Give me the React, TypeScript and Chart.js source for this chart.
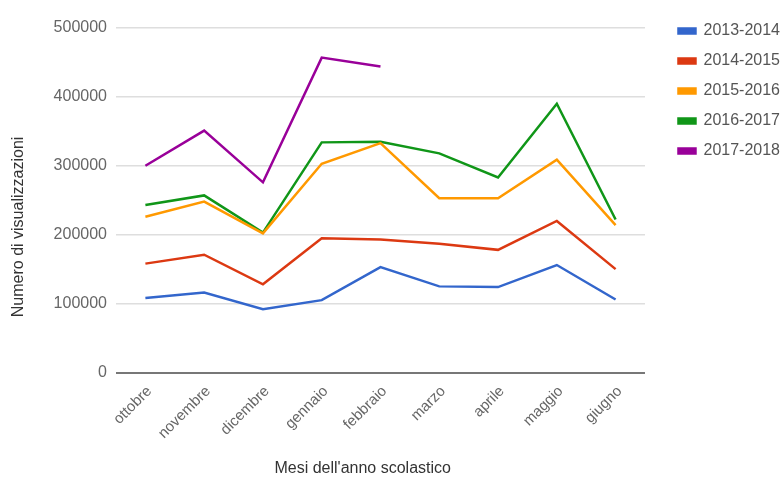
import React, { useEffect, useRef } from 'react';
import { Chart, registerables } from 'chart.js';

Chart.register(...registerables);

const months = ['ottobre', 'novembre', 'dicembre', 'gennaio', 'febbraio', 'marzo', 'aprile', 'maggio', 'giugno'];
const years = ['2013-2014', '2014-2015', '2015-2016', '2016-2017', '2017-2018'];
const views1314 = [108000, 116000, 92000, 105000, 153000, 125000, 124000, 156000, 106000];
const views1415 = [158000, 171000, 128000, 195000, 193000, 187000, 178000, 220000, 150000];
const views1516 = [226000, 248000, 202000, 303000, 333000, 253000, 253000, 309000, 214000];
const views1617 = [243000, 257000, 203000, 334000, 335000, 318000, 283000, 390000, 222000];
const views1718 = [300000, 351000, 276000, 457000, 444000, null, null, null, null];
const yTickValues = [0, 100000, 200000, 300000, 400000, 500000];
const colors = ['#3366cc', '#dc3912', '#ff9900', '#109618', '#990099'];

const FONT = '"Liberation Sans", Arial, sans-serif';

export default function App() {
  const ref = useRef<HTMLCanvasElement | null>(null);
  useEffect(() => {
    if (!ref.current) return;
    const series = [views1314, views1415, views1516, views1617, views1718];
    const chart = new Chart(ref.current, {
      type: 'line',
      data: {
        labels: months,
        datasets: series.map((d, i) => ({
          label: years[i],
          data: d,
          borderColor: colors[i],
          backgroundColor: colors[i],
          borderWidth: 2.5,
          pointRadius: 0,
          tension: 0,
          spanGaps: false,
        })),
      },
      options: {
        animation: false,
        responsive: true,
        maintainAspectRatio: false,
        layout: { padding: { left: 0, right: 0, top: 9, bottom: 0 } },
        plugins: {
          legend: {
            position: 'right',
            align: 'start',
            labels: {
              boxWidth: 17,
              boxHeight: 5,
              padding: 14,
              color: '#555',
              font: { family: FONT, size: 16 },
            },
          },
          tooltip: { enabled: false },
        },
        scales: {
          x: {
            offset: true,
            grid: { display: false },
            border: { display: false },
            ticks: {
              color: '#666',
              font: { family: FONT, size: 15 },
              maxRotation: 45,
              minRotation: 45,
              padding: 2,
              labelOffset: 4,
            },
            title: {
              display: true,
              text: "Mesi dell'anno scolastico        ",
              color: '#333',
              font: { family: FONT, size: 16 },
              padding: { top: 4, bottom: 0 },
            },
            afterFit: (s: any) => { s.height = 105.5; },
          },
          y: {
            min: 0,
            max: 500000,
            afterBuildTicks: (s: any) => { s.ticks = yTickValues.map((v) => ({ value: v })); },
            grid: {
              drawTicks: false,
              color: (c: any) => (c.tick && c.tick.value === 0 ? '#777' : '#dedede'),
              lineWidth: (c: any) => (c.tick && c.tick.value === 0 ? 2 : 1.5),
            },
            border: { display: false },
            ticks: {
              color: '#666',
              font: { family: FONT, size: 16 },
              padding: 9,
              callback: (v: any) => String(v),
            },
            title: {
              display: true,
              text: 'Numero di visualizzazioni            ',
              color: '#333',
              font: { family: FONT, size: 16 },
              padding: { top: 9, bottom: 0 },
            },
            afterFit: (s: any) => { s.width = 116; s.paddingTop = 28; },
          },
          yR: {
            position: 'right',
            display: true,
            grid: { display: false },
            border: { display: false },
            ticks: { display: false },
            afterFit: (s: any) => { s.width = 19.5; s.paddingTop = 0; s.paddingBottom = 0; },
          },
        },
      },
    });
    return () => chart.destroy();
  }, []);
  return (
    <div style={{ position: 'absolute', left: 0, top: 0, width: 784, height: 478, overflow: 'hidden', background: '#fff' }}>
      <div style={{ position: 'relative', width: 790, height: 478 }}>
        <canvas ref={ref} />
      </div>
    </div>
  );
}
